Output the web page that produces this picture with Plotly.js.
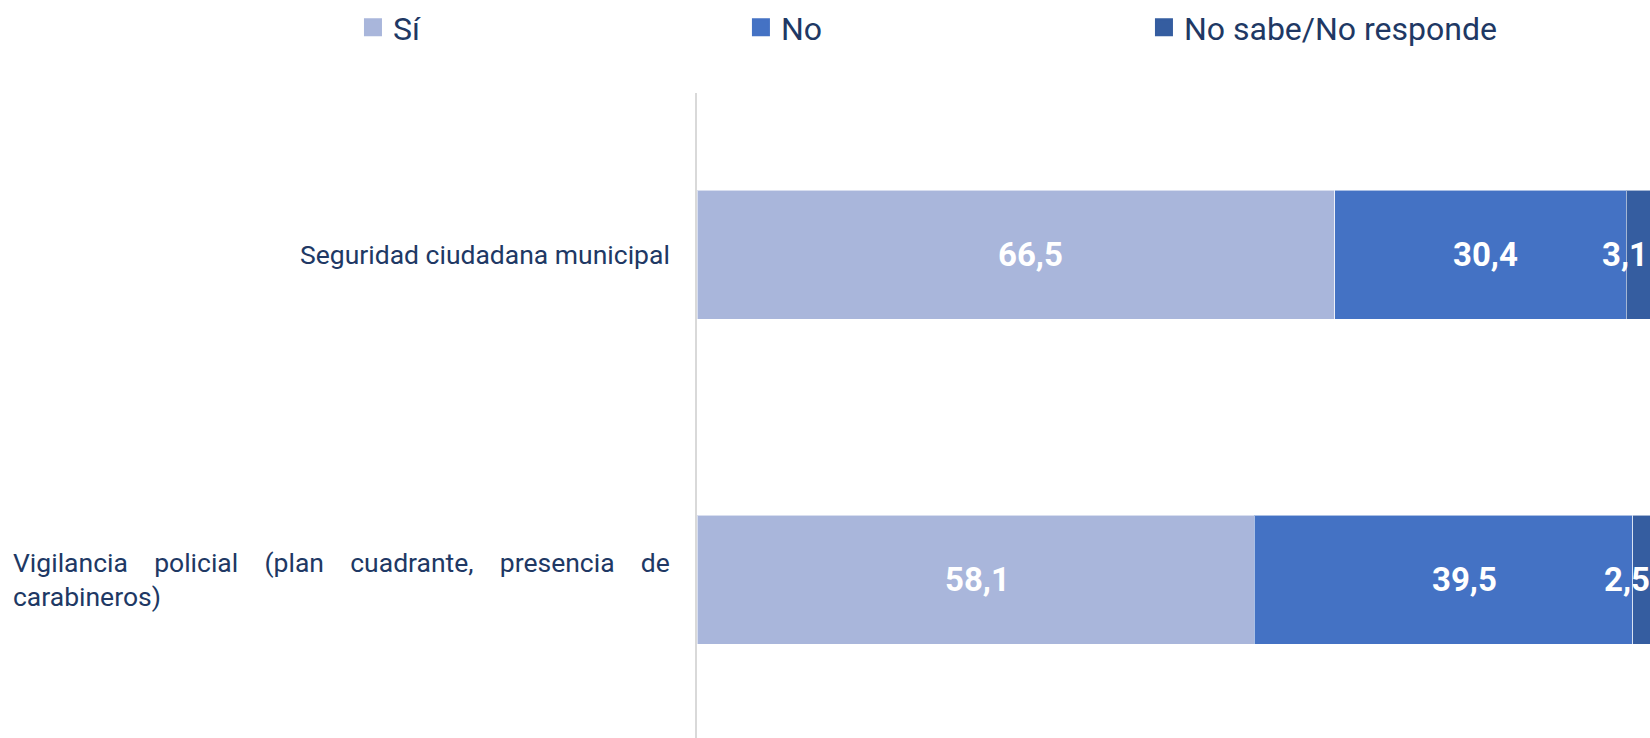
<!DOCTYPE html>
<html>
<head>
<meta charset="utf-8">
<script src="https://cdn.plot.ly/plotly-3.0.1.min.js"></script>
<style>
html, body { margin: 0; padding: 0; background: #ffffff; }
#chart { width: 1650px; height: 738px; }
</style>
</head>
<body>
<div id="chart"></div>
<script>
// ---- data ----
const categories = [
  "Seguridad ciudadana municipal",
  "Vigilancia policial (plan cuadrante, presencia de carabineros)"
];
const seriesNames = ["Sí", "No", "No sabe/No responde"];
const siValues = [66.5, 58.1];
const noValues = [30.4, 39.5];
const nsnrValues = [3.1, 2.5];

// ---- styles ----
const colors = ["#A9B6DB", "#4472C4", "#355DA0"];
const textColor = "#203864";
const fontFamily = "Roboto, 'Open Sans', sans-serif";
const catFontSize = 26.5;
const legendFontSize = 32;
const labelFontSize = 33;
const labelBoxWidth = 658;
// per-label horizontal nudges (px) of the value labels, as placed in the original
const labelNudges = [[15, 5, -16], [2, 21, -18]];

// justified wrap of category labels (emulates the justified text box)
const cv = document.createElement("canvas").getContext("2d");
cv.font = catFontSize + "px Roboto";
function wrapJustify(text, maxW) {
  const words = text.split(" ");
  const lines = [];
  let cur = [];
  words.forEach(w => {
    const test = cur.concat([w]).join(" ");
    if (cur.length && cv.measureText(test).width > maxW) { lines.push(cur); cur = [w]; }
    else cur.push(w);
  });
  lines.push(cur);
  if (lines.length === 1) return lines[0].join(" ");
  const nb = "\u00a0";
  const nbW = cv.measureText(nb).width;
  const out = lines.map((ws, li) => {
    if (li === lines.length - 1 || ws.length < 2) return ws.join(" ");
    const wordsW = ws.reduce((s, w) => s + cv.measureText(w).width, 0);
    const gap = (maxW - wordsW) / (ws.length - 1);
    let used = 0, s = ws[0];
    for (let i = 1; i < ws.length; i++) {
      const total = Math.max(1, Math.round((gap * i) / nbW));
      const n = Math.max(1, total - used);
      used += n;
      s += nb.repeat(n) + ws[i];
    }
    return s;
  });
  return out.join("<br>");
}

const seriesValues = [siValues, noValues, nsnrValues];

const traces = seriesValues.map((vals, k) => ({
  type: "bar",
  orientation: "h",
  y: categories,
  x: vals,
  name: seriesNames[k],
  showlegend: false,
  hoverinfo: "skip",
  textposition: "none",
  marker: { color: colors[k], line: { color: "rgba(255,255,255,0.55)", width: 1 } }
}));

// legend entries (one legend per series, spread across the top)
const legendIds = ["legend", "legend2", "legend3"];
seriesNames.forEach((n, i) => {
  traces.push({
    type: "scatter", mode: "markers", x: [null], y: [null], name: n,
    legend: legendIds[i], hoverinfo: "skip",
    marker: { symbol: "square", size: 16, color: colors[i], line: { color: colors[i], width: 2 } }
  });
});

const legendXs = [-0.3610, 0.0461, 0.4690];
const legendBase = {
  orientation: "h", xanchor: "left", yanchor: "middle", y: 1.1011,
  bgcolor: "rgba(0,0,0,0)", borderwidth: 0,
  font: { family: fontFamily, size: legendFontSize, color: textColor }
};

const annotations = [];
categories.forEach((c, i) => {
  annotations.push({
    xref: "x", yref: "y", x: 0, y: c, xanchor: "right", yanchor: "middle",
    xshift: -25, align: "left", showarrow: false,
    text: wrapJustify(c, labelBoxWidth),
    font: { family: fontFamily, size: catFontSize, color: textColor }
  });
  let start = 0;
  seriesValues.forEach((vals, k) => {
    const v = vals[i];
    annotations.push({
      xref: "x", yref: "y", x: start + v / 2, y: c, xanchor: "center", yanchor: "middle",
      xshift: labelNudges[i][k], showarrow: false,
      text: v.toFixed(1).replace(".", ","),
      font: { family: fontFamily, size: labelFontSize, color: "#ffffff", weight: "bold" }
    });
    start += v;
  });
});

const layout = {
  width: 1650, height: 738,
  margin: { l: 697, r: 0, t: 92, b: 0, pad: 0 },
  barmode: "stack",
  bargap: 0.602,
  separators: ",.",
  paper_bgcolor: "#ffffff", plot_bgcolor: "#ffffff",
  font: { family: fontFamily, color: textColor },
  showlegend: true,
  xaxis: { range: [0, 99.4], visible: false, fixedrange: true },
  yaxis: {
    type: "category", categoryorder: "array", categoryarray: categories,
    range: [1.487, -0.498], showline: true, linecolor: "#D9D9D9", linewidth: 2,
    showticklabels: false, showgrid: false, zeroline: false, ticks: "", fixedrange: true
  },
  legend: Object.assign({}, legendBase, { x: legendXs[0] }),
  legend2: Object.assign({}, legendBase, { x: legendXs[1] }),
  legend3: Object.assign({}, legendBase, { x: legendXs[2] }),
  annotations: annotations
};

Plotly.newPlot("chart", traces, layout, { staticPlot: true, displayModeBar: false });
</script>
</body>
</html>
